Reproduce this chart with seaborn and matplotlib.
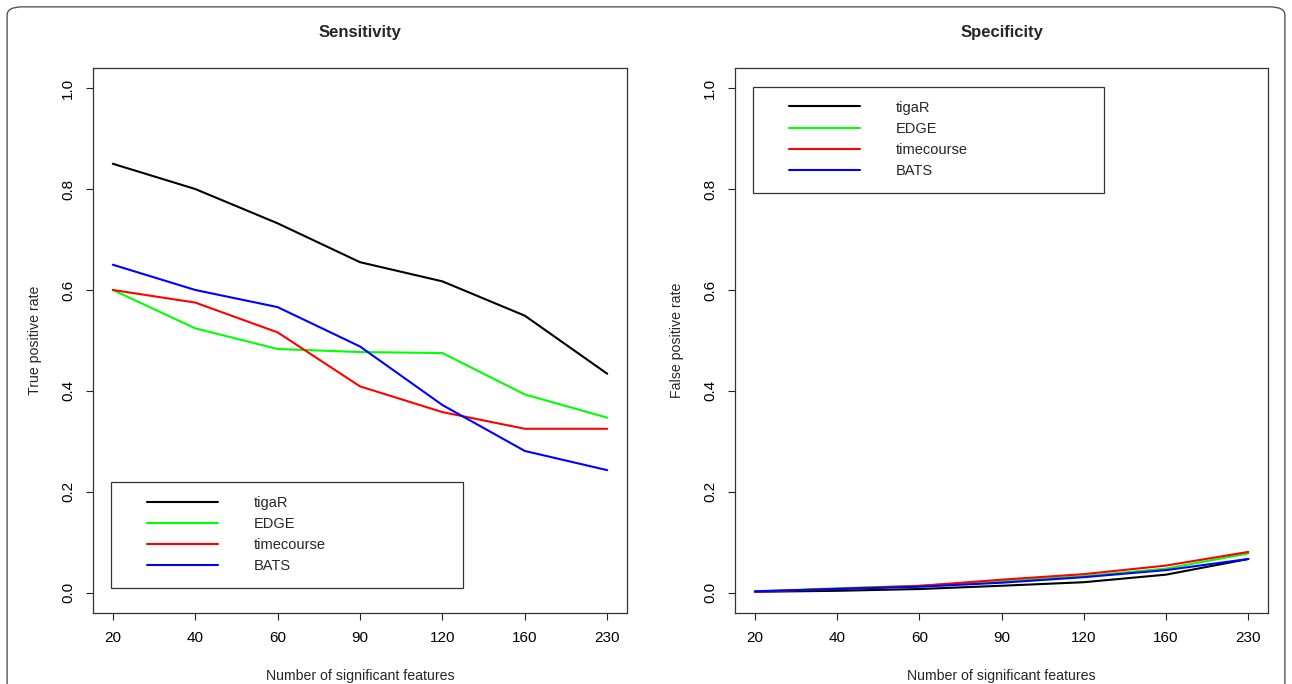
import matplotlib
matplotlib.use("Agg")
import matplotlib.pyplot as plt
import pandas as pd
import seaborn as sns
from matplotlib.patches import Rectangle, FancyBboxPatch

# valores
features = ["20", "40", "60", "90", "120", "160", "230"]
methods = ["tigaR", "EDGE", "timecourse", "BATS"]

tpr_tigar = [0.850, 0.800, 0.732, 0.655, 0.617, 0.549, 0.434]
tpr_edge = [0.600, 0.524, 0.483, 0.477, 0.475, 0.393, 0.347]
tpr_timecourse = [0.600, 0.575, 0.516, 0.409, 0.358, 0.325, 0.325]
tpr_bats = [0.650, 0.600, 0.566, 0.488, 0.372, 0.281, 0.243]

fpr_tigar = [0.002, 0.004, 0.0075, 0.014, 0.021, 0.036, 0.067]
fpr_edge = [0.003, 0.009, 0.014, 0.023, 0.033, 0.048, 0.078]
fpr_timecourse = [0.002, 0.008, 0.0137, 0.026, 0.037, 0.054, 0.081]
fpr_bats = [0.003, 0.0075, 0.012, 0.020, 0.031, 0.045, 0.067]

palette = {"tigaR": "#000000", "EDGE": "#00FF00", "timecourse": "#FF0000", "BATS": "#0000FF"}


def long_df(series):
    rows = []
    for name, vals in zip(methods, series):
        for f, v in zip(features, vals):
            rows.append({"features": f, "rate": v, "method": name})
    return pd.DataFrame(rows)


df_sens = long_df([tpr_tigar, tpr_edge, tpr_timecourse, tpr_bats])
df_spec = long_df([fpr_tigar, fpr_edge, fpr_timecourse, fpr_bats])

sns.set_style("ticks")
plt.rcParams["font.family"] = ["Liberation Sans", "DejaVu Sans"]

fig = plt.figure(figsize=(12.92, 6.84), dpi=100)
ax1 = fig.add_axes([0.072, 0.1038, 0.4133, 0.797])
ax2 = fig.add_axes([0.569, 0.1038, 0.4125, 0.797])

panels = [
    (ax1, df_sens, "Sensitivity", "True positive rate", (0.034, 0.046)),
    (ax2, df_spec, "Specificity", "False positive rate", (0.034, 0.771)),
]

for ax, data, title, ylab, (lx, ly) in panels:
    sns.lineplot(data=data, x="features", y="rate", hue="method", hue_order=methods,
                 palette=palette, linewidth=1.5, ax=ax, legend=False, sort=False)
    ax.set_xlim(-0.24, 6.24)
    ax.set_ylim(-0.04, 1.04)
    ax.set_yticks([0.0, 0.2, 0.4, 0.6, 0.8, 1.0])
    ax.set_yticklabels(["0.0", "0.2", "0.4", "0.6", "0.8", "1.0"], rotation=90, va="center")
    ax.tick_params(axis="both", direction="out", length=5, width=0.8, colors="#222222",
                   labelsize=11, labelcolor="black")
    ax.tick_params(axis="y", pad=8)
    ax.tick_params(axis="x", pad=8)
    for s in ax.spines.values():
        s.set_visible(True)
        s.set_color("#333333")
        s.set_linewidth(0.9)
    ax.set_title(title, fontsize=12, fontweight="bold", pad=22)
    ax.set_xlabel("Number of significant features", fontsize=10.2, labelpad=17)
    ax.set_ylabel(ylab, fontsize=10.2, labelpad=14)

    # moldura da legenda estilo R
    ax.add_patch(Rectangle((lx, ly), 0.659, 0.194, transform=ax.transAxes,
                           fill=False, edgecolor="#333333", linewidth=0.9, zorder=5))
    handles = [plt.Line2D([], [], color=palette[m], linewidth=1.5) for m in methods]
    ax.legend(handles, methods, loc="upper left", bbox_to_anchor=(lx + 0.067, ly + 0.194 - 0.025),
              frameon=False, fontsize=10.5, handlelength=4.9, handletextpad=2.4,
              labelspacing=0.49, borderpad=0, borderaxespad=0)

# borda arredondada da figura
fig.patches.append(FancyBboxPatch((0.0055, -0.05), 0.989, 1.04, boxstyle="round,pad=0,rounding_size=0.012",
                                  transform=fig.transFigure, fill=False, edgecolor="#555555",
                                  linewidth=1.0, clip_on=False))

fig.savefig("out.png", dpi=100)
